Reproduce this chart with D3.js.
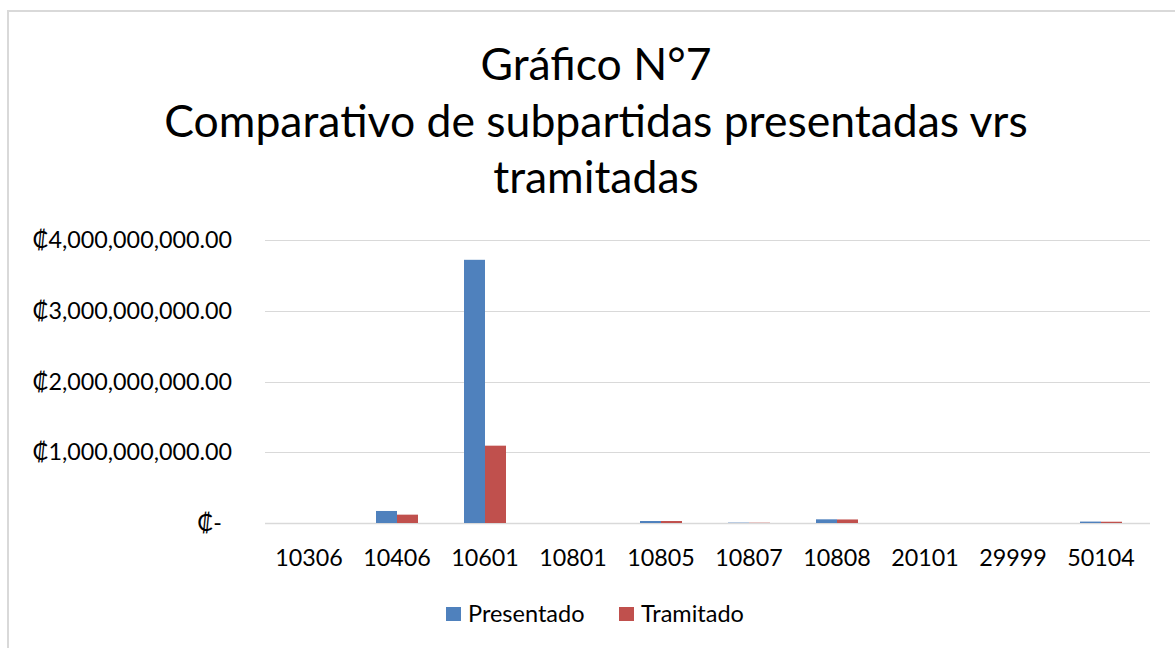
<!DOCTYPE html>
<html>
<head>
<meta charset="utf-8">
<script src="https://cdn.jsdelivr.net/npm/d3@7"></script>
<style>
  body { margin: 0; background: #fff; }
  text { font-family: Lato, "Noto Sans", sans-serif; fill: #000; }
</style>
</head>
<body>
<div id="chart-area"></div>
<script>
// datos
var subpartidas = ["10306", "10406", "10601", "10801", "10805", "10807", "10808", "20101", "29999", "50104"];
var presentado = [0, 170000000, 3720000000, 0, 28000000, 5000000, 52000000, 0, 0, 20000000];
var tramitado = [0, 118000000, 1093000000, 0, 28000000, 4000000, 50000000, 0, 0, 18000000];
var series = ["Presentado", "Tramitado"];
var colores = ["#4F81BD", "#C0504D"];
var yTicks = [0, 1000000000, 2000000000, 3000000000, 4000000000];
var titulo = ["Gráfico N°7", "Comparativo de subpartidas presentadas vrs", "tramitadas"];

var W = 1175, H = 648;
var margin = { top: 240, right: 30, bottom: 125, left: 265 };
var width = W - margin.left - margin.right;
var height = H - margin.top - margin.bottom;

var svg = d3.select("#chart-area")
    .append("svg")
        .attr("width", W)
        .attr("height", H);

// marco del grafico
svg.append("rect")
    .attr("x", 8)
    .attr("y", 11)
    .attr("width", W)
    .attr("height", H)
    .attr("fill", "none")
    .attr("stroke", "#d9d9d9")
    .attr("stroke-width", 2);

// Titulo
svg.append("text")
    .attr("text-anchor", "middle")
    .attr("font-size", "44.5px")
    .selectAll("tspan")
    .data(titulo)
    .enter()
    .append("tspan")
        .attr("x", 596)
        .attr("y", (d, i) => 80 + i * 56.5)
        .text(d => d);

var group = svg.append("g")
    .attr("transform", "translate(" + margin.left + ", " + margin.top + ")");

var dados = subpartidas.map((s, i) => {
    return { subpartida: s, valores: [presentado[i], tramitado[i]] };
});

// X Scale
var x = d3.scaleBand()
    .domain(subpartidas)
    .range([0, 880]);

var x1 = d3.scaleBand()
    .domain(series)
    .range([23, x.bandwidth() - 23]);

// Y Scale
var y = d3.scaleLinear()
    .domain([0, 4000000000])
    .range([283, 0]);

// lineas de cuadricula
group.append("g")
    .selectAll("line")
    .data(yTicks)
    .enter()
    .append("line")
        .attr("x1", 0)
        .attr("x2", 885)
        .attr("y1", d => Math.round(y(d)) + 0.5)
        .attr("y2", d => Math.round(y(d)) + 0.5)
        .attr("stroke", "#d9d9d9")
        .attr("stroke-width", d => d === 0 ? 1.5 : 1);

// etiquetas eje Y
var fmt = d3.format(",.2f");
group.append("g")
    .selectAll("text")
    .data(yTicks)
    .enter()
    .append("text")
        .attr("x", d => d === 0 ? -43 : -33)
        .attr("y", d => y(d))
        .attr("dy", "0.35em")
        .attr("text-anchor", "end")
        .attr("font-size", "23.3px")
        .text(d => d === 0 ? "₡-" : "₡" + fmt(d));

// Barras
var grupos = group.selectAll(".cat")
    .data(dados)
    .enter()
    .append("g")
        .attr("class", "cat")
        .attr("transform", d => "translate(" + x(d.subpartida) + ",0)");

grupos.selectAll("rect")
    .data(d => d.valores.map((v, i) => ({ serie: series[i], valor: v, color: colores[i] })))
    .enter()
    .append("rect")
        .attr("x", d => x1(d.serie))
        .attr("y", d => y(d.valor))
        .attr("width", x1.bandwidth())
        .attr("height", d => y(0) - y(d.valor))
        .attr("fill", d => d.color);

// etiquetas eje X
var xAxisCall = d3.axisBottom(x).tickSize(0).tickPadding(0);
var xAxisGroup = group.append("g")
    .attr("transform", "translate(0, " + 283 + ")")
    .call(xAxisCall);
xAxisGroup.select(".domain").remove();
xAxisGroup.selectAll("text")
    .attr("y", 35)
    .attr("dy", "0.35em")
    .attr("font-size", "23.3px")
    .attr("font-family", "Lato, sans-serif")
    .attr("fill", "#000");

// Leyenda
var leyenda = svg.append("g");
var posLeyenda = [446, 619];
series.forEach((s, i) => {
    leyenda.append("rect")
        .attr("x", posLeyenda[i])
        .attr("y", 607)
        .attr("width", 15)
        .attr("height", 14)
        .attr("fill", colores[i]);
    leyenda.append("text")
        .attr("x", posLeyenda[i] + 22)
        .attr("y", 621.5)
        .attr("font-size", "23.5px")
        .text(s);
});
</script>
</body>
</html>
